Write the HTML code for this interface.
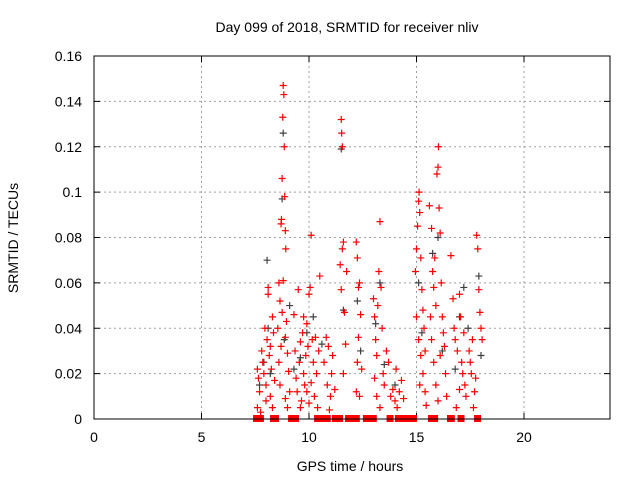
<!DOCTYPE html>
<html><head><meta charset="utf-8"><style>
html,body{margin:0;padding:0;background:#fff;}
svg{display:block;font-family:"Liberation Sans",sans-serif;}
</style></head><body>
<svg id="chart" width="640" height="480" viewBox="0 0 640 480" xmlns="http://www.w3.org/2000/svg">
<rect width="640" height="480" fill="#fff"/>
<text x="347" y="32" font-size="14" text-anchor="middle">Day 099 of 2018, SRMTID for receiver nliv</text>
<text transform="translate(18,238) rotate(-90)" font-size="14" text-anchor="middle">SRMTID / TECUs</text>
<text x="350" y="471" font-size="14" text-anchor="middle">GPS time / hours</text>
<g id="grid"></g><g id="ticks"></g><g id="marks"></g>
<rect x="94" y="56" width="516" height="363" fill="none" stroke="#000" stroke-width="1"/>
</svg>
<script>
const xTicks=[0,5,10,15,20];
const yTicks=[0,0.02,0.04,0.06,0.08,0.1,0.12,0.14,0.16];
const yTickLabels=["0","0.02","0.04","0.06","0.08","0.1","0.12","0.14","0.16"];
const redHours=[7.6,7.65,7.7,7.6,7.8,7.85,7.9,7.95,8.0,8.05,8.1,8.1,8.15,8.2,8.25,8.3,8.35,8.0,7.75,8.2,8.4,8.3,
8.55,8.6,8.65,8.7,8.72,8.75,8.78,8.8,8.83,8.85,8.87,8.9,8.92,8.8,8.75,8.9,9.0,8.6,8.65,8.9,9.05,8.7,9.1,8.95,9.0,
9.3,9.35,9.4,9.45,9.5,9.55,9.6,9.65,9.7,9.75,9.8,9.85,9.9,9.95,10.0,10.05,10.1,10.15,10.2,10.25,10.3,10.35,10.4,10.45,10.5,9.6,9.9,10.1,9.75,10.0,
10.7,10.8,10.85,10.9,11.0,11.05,11.1,10.95,11.2,
11.45,11.5,11.52,11.55,11.6,11.55,11.5,11.65,11.7,11.6,11.75,
12.2,12.25,12.3,12.35,12.4,12.3,12.25,12.2,12.35,12.45,
13.0,13.05,13.1,13.15,13.2,13.25,13.3,13.35,13.4,13.45,13.5,13.15,13.6,13.7,13.3,13.05,
13.8,13.9,14.0,14.05,14.1,14.2,14.3,14.4,
14.95,15.0,15.05,15.1,15.12,15.15,15.2,15.25,15.3,15.35,15.1,15.2,15.3,15.4,15.45,15.0,15.15,15.4,
15.6,15.7,15.75,15.8,15.85,15.9,15.95,16.0,16.02,16.05,16.1,16.15,16.2,16.25,16.3,16.35,15.7,15.8,15.9,16.0,16.1,16.4,15.65,
16.6,16.7,16.75,16.8,16.9,17.0,17.05,17.1,17.15,17.2,17.25,17.3,16.85,17.0,
17.45,17.5,17.55,17.6,17.7,17.8,17.85,17.9,17.95,18.0,18.05,17.65,17.75];
const redValues=[.022,.018,.012,.005,.03,.025,.02,.04,.015,.035,.058,.055,.028,.01,.022,.045,.038,.008,.003,.032,.017,.005,
.04,.06,.052,.086,.088,.106,.133,.147,.143,.12,.098,.083,.075,.061,.047,.036,.029,.025,.015,.009,.021,.032,.012,.043,.005,
.046,.03,.018,.012,.057,.025,.034,.008,.038,.02,.015,.028,.042,.032,.055,.058,.081,.035,.025,.01,.036,.02,.005,.03,.063,.005,.012,.016,.045,.007,
.025,.036,.015,.032,.01,.02,.028,.004,.013,
.068,.132,.126,.12,.078,.075,.057,.047,.033,.02,.065,
.078,.071,.058,.06,.046,.036,.025,.012,.01,.022,
.053,.045,.035,.028,.05,.065,.087,.058,.04,.02,.015,.01,.03,.025,.005,.018,
.01,.013,.008,.022,.005,.012,.017,.009,
.065,.075,.085,.096,.1,.091,.071,.057,.048,.04,.035,.028,.02,.012,.006,.045,.015,.03,
.094,.084,.065,.058,.071,.05,.108,.111,.12,.093,.082,.06,.045,.038,.032,.02,.035,.025,.015,.008,.028,.01,.045,
.072,.053,.04,.035,.03,.055,.045,.025,.02,.038,.015,.01,.005,.013,
.03,.025,.02,.035,.012,.081,.075,.057,.047,.04,.035,.005,.018];
const darkHours=[7.7,7.9,8.05,8.1,8.2,8.8,8.75,8.85,9.1,9.3,9.6,9.9,10.2,10.6,11.5,11.6,12.25,12.4,13.1,13.3,13.5,14.0,15.1,15.25,15.75,16.0,16.2,16.8,17.0,17.2,17.4,17.9,18.0];
const darkValues=[.015,.025,.07,.04,.02,.126,.097,.035,.05,.022,.027,.038,.045,.033,.119,.048,.052,.03,.042,.06,.024,.015,.06,.038,.073,.08,.03,.022,.045,.058,.04,.063,.028];
const zeroHours=[7.56,7.65,7.74,8.35,8.44,9.19,9.28,9.37,10.4,10.5,10.6,10.7,10.85,11.23,11.3,11.42,11.84,12.0,12.2,
12.67,12.8,12.99,13.77,14.16,14.3,14.5,14.65,14.86,15.7,15.84,16.58,16.62,17.07,17.84];
const X=h=>94+h*(516/24);
const Y=v=>419-v*(363/0.16);
const NS="http://www.w3.org/2000/svg";
function mk(tag,attrs,parent){const e=document.createElementNS(NS,tag);for(const k in attrs)e.setAttribute(k,attrs[k]);parent.appendChild(e);return e;}
const grid=document.getElementById('grid'),ticks=document.getElementById('ticks'),marks=document.getElementById('marks');
xTicks.forEach((t,i)=>{const x=X(t);
 if(t>0){const g=mk('line',{x1:x,y1:56,x2:x,y2:419,stroke:'#a0a0a0','stroke-dasharray':'2,3'},grid);
 
 }
 mk('line',{x1:x,y1:419,x2:x,y2:413,stroke:'#000'},ticks);
 mk('line',{x1:x,y1:56,x2:x,y2:62,stroke:'#000'},ticks);
 const l=mk('text',{x:x,y:442,'font-size':14,'text-anchor':'middle'},ticks);l.textContent=t;
 
 
});
yTicks.forEach((t,i)=>{const y=Y(t);
 if(t>0&&t<0.16){const g=mk('line',{x1:94,y1:y,x2:610,y2:y,stroke:'#a0a0a0','stroke-dasharray':'2,3'},grid);
 
 }
 mk('line',{x1:94,y1:y,x2:100,y2:y,stroke:'#000'},ticks);
 mk('line',{x1:610,y1:y,x2:604,y2:y,stroke:'#000'},ticks);
 const l=mk('text',{x:82,y:y+5,'font-size':14,'text-anchor':'end'},ticks);l.textContent=yTickLabels[i];
 
 
});
function cross(h,v,color,name){const x=X(h),y=Y(v);
 const p=mk('path',{d:`M${x-3.5},${y}H${x+3.5}M${x},${y-3.5}V${y+3.5}`,stroke:color,'stroke-width':1.2,fill:'none'},marks);
 
 }
darkHours.forEach((h,i)=>cross(h,darkValues[i],'#404040','dark-point'));
redHours.forEach((h,i)=>cross(h,redValues[i],'#ff0000','red-point'));
zeroHours.forEach(h=>{const x=X(h);
 const r=mk('rect',{x:x-3.5,y:415,width:7,height:7,fill:'#ff0000'},marks);
 
 });
</script>
</body></html>
